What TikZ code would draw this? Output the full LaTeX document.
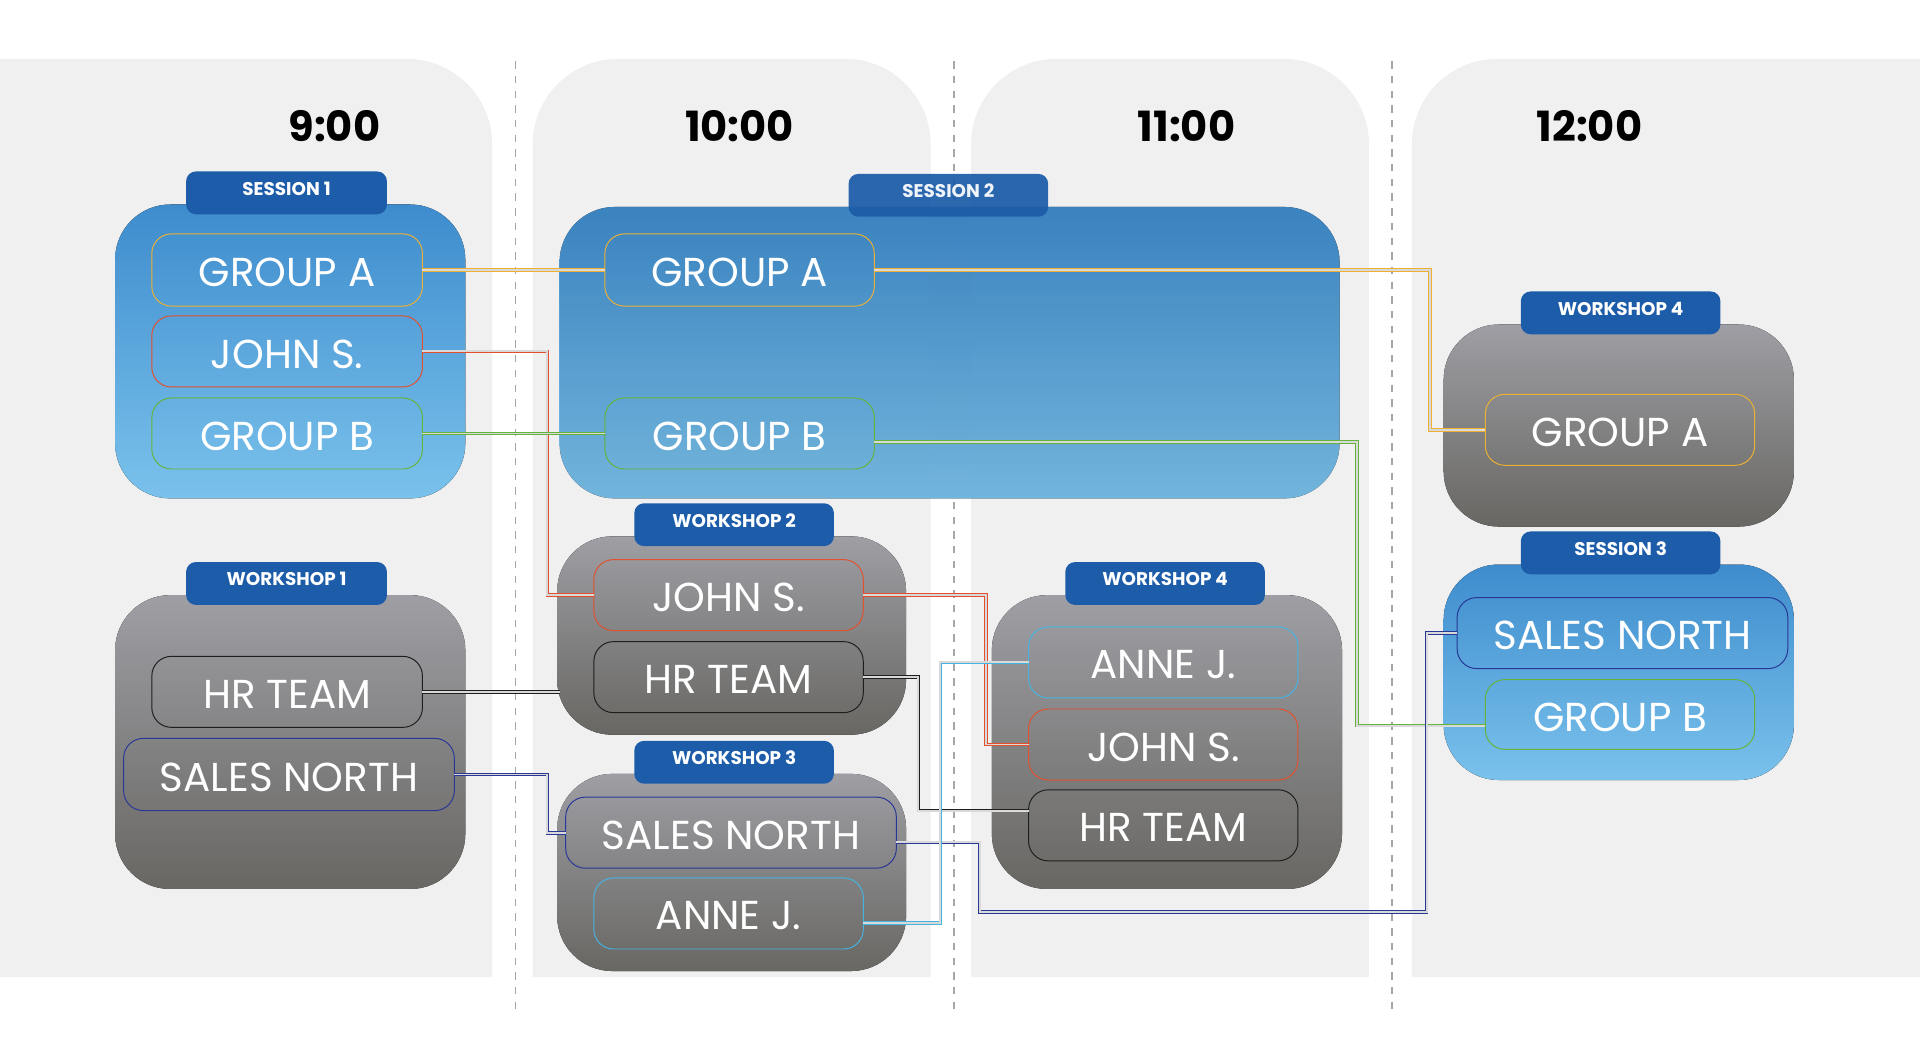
\documentclass[tikz,border=0pt]{standalone}
\usepackage{fontspec}
\setmainfont{Poppins}
\definecolor{btop}{RGB}{62,140,205}
\definecolor{bbot}{RGB}{122,194,236}
\definecolor{gtop}{RGB}{158,158,164}
\definecolor{gbot}{RGB}{104,103,99}
\definecolor{tabc}{RGB}{28,92,168}
\begin{document}
\begin{tikzpicture}[x=1pt,y=-1pt,
 col/.style={fill=black!6,draw=none},
 bluebox/.style={rounded corners=45pt,top color=btop,bottom color=bbot,draw=none},
 graybox/.style={rounded corners=45pt,top color=gtop,bottom color=gbot,draw=none},
 tabbox/.style={fill=tabc,rounded corners=8pt,draw=none},
 tabtxt/.style={text=white,font=\fontsize{15}{18}\selectfont\bfseries},
 pill/.style={rounded corners=16pt,line width=0.8pt,fill=none},
 ptxt/.style={text=white,font=\fontsize{33}{36}\selectfont},
 conn/.style={double=white!85!black,double distance=1.6pt,line width=0.7pt},
 tm/.style={font=\fontsize{34}{36}\selectfont\bfseries}]
\useasboundingbox (0,0) rectangle (1568,847);
\fill[col] (0,798) -- (0,48) [rounded corners=70pt] -- (402,48) [sharp corners] -- (402,798) -- cycle;
\fill[col] (435,798) [rounded corners=70pt] -- (435,48) -- (760,48) [sharp corners] -- (760,798) -- cycle;
\fill[col] (793,798) [rounded corners=70pt] -- (793,48) -- (1118,48) [sharp corners] -- (1118,798) -- cycle;
\fill[col] (1153,798) [rounded corners=70pt] -- (1153,48) [sharp corners] -- (1568,48) -- (1568,798) -- cycle;
\foreach \x in {421,779,1137} \draw[black!35,line width=1.5pt,dash pattern=on 6pt off 6pt] (\x,50) -- (\x,828);
\node[tm] (t9) at (273,103) {9:00};
\node[tm] (t10) at (604,103) {10:00};
\node[tm] (t11) at (969,103) {11:00};
\node[tm] (t12) at (1298,103) {12:00};
\newcommand{\mybox}[8]{%
 \fill[#1] (#2,#3) rectangle (#4,#5);
 \fill[tabbox] (#6,#3-27) rectangle (#7,#3+8);
 \node[tabtxt] at ({(#6+#7)/2},#3-13) {#8};}
\mybox{bluebox}{94}{167}{380}{407}{152}{316}{SESSION 1}
\begin{scope}[opacity=0.93]
\mybox{bluebox}{457}{169}{1094}{407}{693}{856}{SESSION 2}
\end{scope}
\mybox{graybox}{94}{486}{380}{726}{152}{316}{WORKSHOP 1}
\mybox{graybox}{455}{438}{740}{600}{518}{681}{WORKSHOP 2}
\mybox{graybox}{455}{632}{740}{793}{518}{681}{WORKSHOP 3}
\mybox{graybox}{810}{486}{1096}{726}{870}{1033}{WORKSHOP 4}
\mybox{graybox}{1179}{265}{1465}{430}{1242}{1405}{WORKSHOP 4}
\mybox{bluebox}{1179}{461}{1465}{637}{1242}{1405}{SESSION 3}
\newcommand{\mypill}[7]{%
 \draw[pill,draw=#2] (#3,#4) rectangle (#5,#6);
 \node[ptxt,inner sep=0pt] (#1) at ({(#3+#5)/2},{(#4+#6)/2+2}) {#7};
 \coordinate (#1W) at (#3,{(#4+#6)/2});
 \coordinate (#1E) at (#5,{(#4+#6)/2});}
\definecolor{cA}{RGB}{236,176,50}
\definecolor{cJ}{RGB}{226,80,45}
\definecolor{cB}{RGB}{100,180,60}
\definecolor{cH}{RGB}{30,30,30}
\definecolor{cS}{RGB}{40,55,150}
\definecolor{cN}{RGB}{70,180,225}
\mypill{a1}{cA}{124}{191}{345}{250}{GROUP A}
\mypill{j1}{cJ}{124}{258}{345}{316}{JOHN S.}
\mypill{b1}{cB}{124}{325}{345}{383}{GROUP B}
\mypill{a2}{cA}{494}{191}{714}{250}{GROUP A}
\mypill{b2}{cB}{494}{325}{714}{383}{GROUP B}
\mypill{h1}{cH}{124}{536}{345}{594}{HR TEAM}
\mypill{s1}{cS}{101}{603}{371}{662}{SALES NORTH}
\mypill{j2}{cJ}{485}{457}{705}{515}{JOHN S.}
\mypill{h2}{cH}{485}{524}{705}{582}{HR TEAM}
\mypill{s3}{cS}{462}{651}{732}{709}{SALES NORTH}
\mypill{n3}{cN}{485}{717}{705}{775}{ANNE J.}
\mypill{n4}{cN}{840}{512}{1060}{570}{ANNE J.}
\mypill{j4}{cJ}{840}{579}{1060}{637}{JOHN S.}
\mypill{h4}{cH}{840}{645}{1060}{703}{HR TEAM}
\mypill{a5}{cA}{1213}{322}{1433}{380}{GROUP A}
\mypill{s5}{cS}{1190}{488}{1460}{546}{SALES NORTH}
\mypill{b5}{cB}{1213}{555}{1433}{612}{GROUP B}
\coordinate (xa) at (1168,0);
\coordinate (xj) at (447,0);
\coordinate (xb) at (1108,0);
\coordinate (xj2) at (805,0);
\coordinate (xh2) at (750,0);
\coordinate (xs3) at (800,0);
\coordinate (xs5) at (1165,0);
\coordinate (xn) at (768,0);
\coordinate (xw2) at (457,0);
\coordinate (ys3) at (0,745);
\draw[conn,cA] (a1E) -- (a2W);
\draw[conn,cA] (a2E) -- (a2E -| xa) |- (a5W);
\draw[conn,cJ] (j1E) -- (j1E -| xj) |- (j2W);
\draw[conn,cB] (b1E) -- (b2W);
\draw[conn,cB] ([yshift=-7pt]b2E) -- ([yshift=-7pt]b2E -| xb) |- ([yshift=-9pt]b5W);
\draw[conn,cJ] (j2E) -- (j2E -| xj2) |- (j4W);
\draw[conn,cH] (h1E) -- (h1E -| xw2);
\draw[conn,cH] (h2E) -- (h2E -| xh2) |- ([yshift=12pt]h4W);
\draw[conn,cS] (s1E) -- (s1E -| xj) |- (s3W);
\draw[conn,cS] ([yshift=-8pt]s3E) -| (xs3 |- ys3) -- (xs5 |- ys3) |- (s5W);
\draw[conn,cN] ([yshift=-8pt]n3E) -| (n3E -| xn) |- (n4W);
\end{tikzpicture}
\end{document}
